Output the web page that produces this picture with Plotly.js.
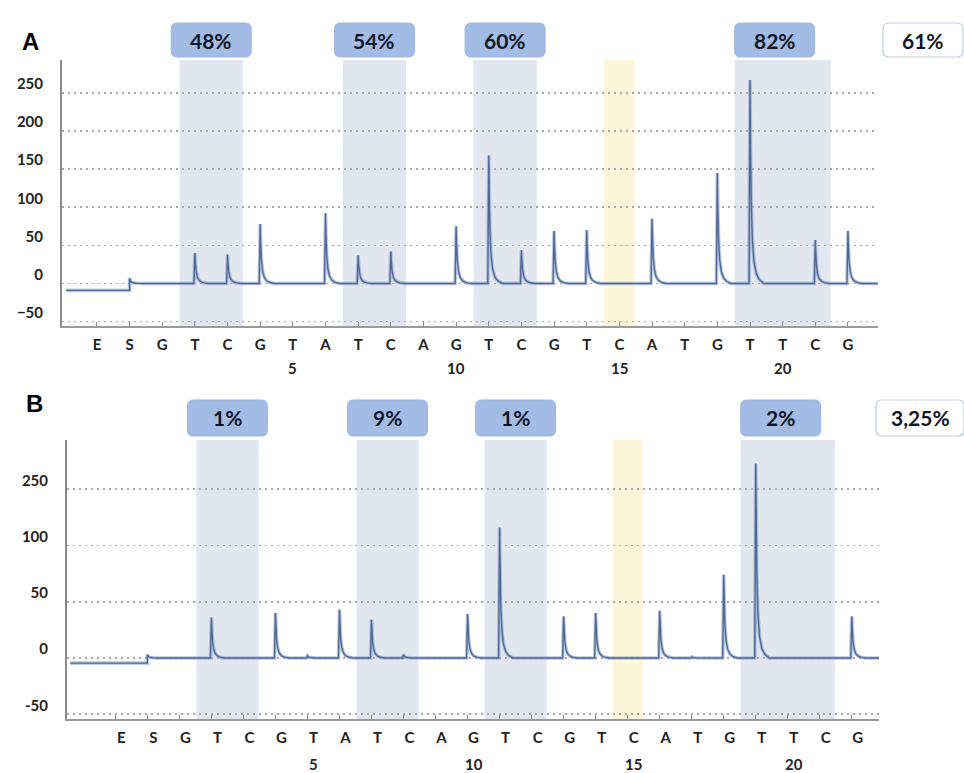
<!DOCTYPE html>
<html><head><meta charset="utf-8">
<script src="https://cdn.plot.ly/plotly-3.0.1.min.js"></script>
<style>html,body{margin:0;padding:0;background:#fff}#chart{width:964px;height:773px}</style>
</head><body><div id="chart"></div>
<script>
// ---------------- data ----------------
const dispensation = ['E','S','G','T','C','G','T','A','T','C','A','G','T','C','G','T','C','A','T','G','T','T','C','G'];
// peak heights per dispensation (panel A and B)
const peaksA = [0,7,0,40,38,78,0,92,37,42,0,75,168,44,69,70,0,85,0,145,267,0,57,69];
const peaksB = [0,3,0,36,0,40,2,43,34,3,0,39,116,0,37,40,0,42,1,74,173,0,0,37];
// signal level before the substrate (S) dispensation and where it starts
const preBaselineA = -9,  preStartA = -0.95;
const preBaselineB = -4.5, preStartB = -1.41;
// CpG site groups (dispensation indices) and bisulfite control
const cpgSites = [[3,4],[8,9],[12,13],[20,22]];
const controlSite = 16;
const methylA = ['48%','54%','60%','82%'];
const methylB = ['1%','9%','1%','2%'];
const meanA = '61%';
const meanB = '3,25%';
const yTicksA = [-50,0,50,100,150,200,250];
const yTickValsB = [-50,0,50,100,150];
const yTickTextB = ['-50','0','50','100','250'];
const numberEvery = 5; // dispensation numbering (first G = 1)

// ---------------- geometry / style ----------------
const W = 964, H = 773;
const geo = {
  A: {l:62, r:878, t:60, b:326, xr:[-1.07,23.92], yr:[-55.8,293.3], numY:368, boxT:23, boxB:57, meanL:883, meanR:963, shift:0},
  B: {l:67, r:879, t:440, b:719, xr:[-1.51,23.85], yr:[-54.2,193.8], numY:764, boxT:400, boxB:436, meanL:876, meanR:964, shift:6}
};
const shapeDx = [-0.03, 0, 0.012, 0.035, 0.07, 0.12, 0.19, 0.28, 0.42];
const shapeFr = [0, 1, 0.72, 0.42, 0.22, 0.11, 0.05, 0.02, 0];

function buildSignal(peaks, preStart, preLevel, xEnd){
  const xs=[preStart, 0.999], ys=[preLevel, preLevel];
  for (let i=1;i<peaks.length;i++){
    const h = peaks[i];
    if (!h) continue;
    for (let k=0;k<shapeDx.length;k++){
      if (i===1 && k===0) continue;
      xs.push(i+shapeDx[k]); ys.push(h*shapeFr[k]);
    }
  }
  xs.push(xEnd); ys.push(0);
  return {xs, ys};
}

const idx = dispensation.map((_,i)=>i);
const sigA = buildSignal(peaksA, preStartA, preBaselineA, geo.A.xr[1]);
const sigB = buildSignal(peaksB, preStartB, preBaselineB, geo.B.xr[1]);

function traces(sig, xa, ya){
  return [
    {x:sig.xs, y:sig.ys, xaxis:xa, yaxis:ya, mode:'lines', hoverinfo:'skip',
     line:{color:'rgba(140,163,204,0.6)', width:3.6, shape:'linear'}, showlegend:false},
    {x:sig.xs, y:sig.ys, xaxis:xa, yaxis:ya, mode:'lines', hoverinfo:'skip',
     line:{color:'#4f6996', width:1.4, shape:'linear'}, showlegend:false}
  ];
}
const data = [...traces(sigA,'x','y'), ...traces(sigB,'x2','y2')];

const X = v => +(v/W).toFixed(5);
const Y = v => +(1-v/H).toFixed(5);
function rrPath(x0,y0,x1,y1,r){
  return `M${X(x0+r)},${Y(y0)} L${X(x1-r)},${Y(y0)} Q${X(x1)},${Y(y0)} ${X(x1)},${Y(y0+r)} `+
         `L${X(x1)},${Y(y1-r)} Q${X(x1)},${Y(y1)} ${X(x1-r)},${Y(y1)} L${X(x0+r)},${Y(y1)} `+
         `Q${X(x0)},${Y(y1)} ${X(x0)},${Y(y1-r)} L${X(x0)},${Y(y0+r)} Q${X(x0)},${Y(y0)} ${X(x0+r)},${Y(y0)} Z`;
}
const pxOf = (g, v) => g.l + (v - g.xr[0])/(g.xr[1]-g.xr[0])*(g.r-g.l);

const shapes = [], annotations = [];
const boxFont = {family:'Lato, "Open Sans", sans-serif', size:21, color:'#111827', weight:'bold'};
const HALF = 0.47;
[['A','x','y',methylA,meanA],['B','x2','y2',methylB,meanB]].forEach(([p,xa,ya,labels,mean])=>{
  const g = geo[p];
  const yd = ya + ' domain';
  cpgSites.forEach((grp,k)=>{
    shapes.push({type:'rect', xref:xa, yref:yd, x0:grp[0]-HALF, x1:grp[grp.length-1]+HALF, y0:0, y1:1,
      fillcolor:'#e1e6ef', line:{width:0}, layer:'below'});
    const left = pxOf(g, grp[0]-HALF);
    const center = pxOf(g, (grp[0]+grp[grp.length-1])/2);
    const bw = 80;
    const cx = Math.min(center, left + bw/2);
    shapes.push({type:'path', xref:'paper', yref:'paper', path:rrPath(cx-bw/2, g.boxT, cx+bw/2, g.boxB, 6),
      fillcolor:'#a3bce6', line:{color:'#9db6e2', width:1}, layer:'above'});
    annotations.push({xref:'paper', yref:'paper', x:X(cx), y:Y((g.boxT+g.boxB)/2), text:labels[k],
      showarrow:false, font:boxFont, xanchor:'center', yanchor:'middle'});
  });
  shapes.push({type:'rect', xref:xa, yref:yd, x0:controlSite-HALF, x1:controlSite+HALF, y0:0, y1:1,
    fillcolor:'#fcf5d7', line:{width:0}, layer:'below'});
  shapes.push({type:'path', xref:'paper', yref:'paper', path:rrPath(g.meanL, g.boxT, g.meanR, g.boxB, 6),
    fillcolor:'#ffffff', line:{color:'#c3cde0', width:1.2}, layer:'above'});
  annotations.push({xref:'paper', yref:'paper', x:X((g.meanL+g.meanR)/2), y:Y((g.boxT+g.boxB)/2), text:mean,
    showarrow:false, font:boxFont, xanchor:'center', yanchor:'middle'});
  // dispensation numbers
  idx.forEach(i=>{
    const n = i-1;
    if (n>0 && n % numberEvery === 0){
      annotations.push({xref:xa, yref:'paper', x:i, y:Y(g.numY), text:String(n), showarrow:false,
        xshift:g.shift, font:{family:'Lato, "Open Sans", sans-serif', size:15, color:'#222', weight:'bold'},
        xanchor:'center', yanchor:'middle'});
    }
  });
});
annotations.push({xref:'paper', yref:'paper', x:X(20), y:Y(26), text:'A', showarrow:false,
  font:{family:'"Liberation Sans", Arial, sans-serif', size:24, color:'#000', weight:'bold'}});
annotations.push({xref:'paper', yref:'paper', x:X(24), y:Y(403), text:'B', showarrow:false,
  font:{family:'"Liberation Sans", Arial, sans-serif', size:24, color:'#000', weight:'bold'}});

const tickFont = {family:'Lato, "Open Sans", sans-serif', size:15, color:'#222', weight:'bold'};
function xAxis(g, anchor){
  return {domain:[X(g.l), X(g.r)], range:g.xr, anchor, tickmode:'array', tickvals:idx, ticktext:dispensation,
    tickfont:tickFont, ticks:'inside', ticklen:4, tickwidth:1, tickcolor:'#888', showline:true, linecolor:'#9a9a9a',
    linewidth:2, showgrid:false, zeroline:false, ticklabelstandoff:4, ticklabelshift:g.shift, fixedrange:true};
}
function yAxis(g, anchor, vals, text){
  const a = {domain:[Y(g.b), Y(g.t)], range:g.yr, anchor, tickmode:'array', tickvals:vals, tickfont:tickFont,
    ticks:'', showline:true, linecolor:'#8a8a8a', linewidth:2, showgrid:true, gridcolor:'#a8a8a8', griddash:'2px,4px',
    gridwidth:1.6, zeroline:false, ticklabelshift:-9, ticklabelstandoff:14, fixedrange:true};
  if (text) a.ticktext = text;
  return a;
}
const layout = {
  width:W, height:H, margin:{l:0,r:0,t:0,b:0}, paper_bgcolor:'#fff', plot_bgcolor:'rgba(0,0,0,0)',
  showlegend:false,
  xaxis: xAxis(geo.A,'y'), yaxis: yAxis(geo.A,'x',yTicksA),
  xaxis2: xAxis(geo.B,'y2'), yaxis2: yAxis(geo.B,'x2',yTickValsB,yTickTextB),
  shapes, annotations
};
Plotly.newPlot('chart', data, layout, {displayModeBar:false, staticPlot:true});
</script></body></html>
